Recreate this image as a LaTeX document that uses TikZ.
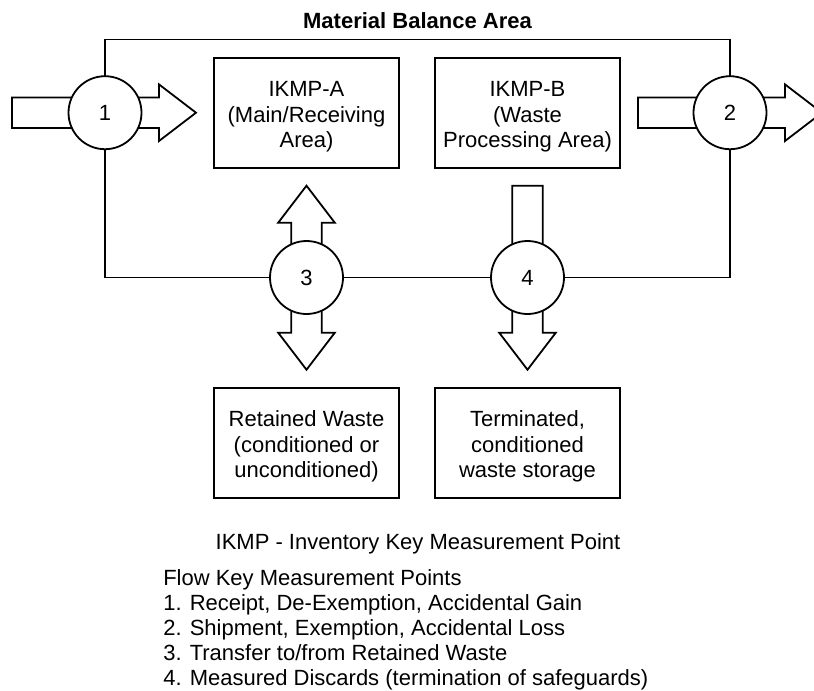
\documentclass[tikz,border=0pt]{standalone}
\usepackage{fontspec}
\setmainfont{Liberation Sans}
\usepackage{tikz}
\usetikzlibrary{positioning,calc}
\newlength{\BalanceFigureUnit}
\setlength{\BalanceFigureUnit}{0.75pt}
\newcommand{\BalanceFigureFont}{\fontsize{16.5pt}{19.2pt}\selectfont}
\newcommand{\FlowArrowHead}{37}
\newcommand{\FlowArrowShaft}{15.3}
\newcommand{\FlowArrowWing}{28.3}
\tikzset{
  balance line/.style={draw=black, line width=1.35pt},
  balance area/.style={balance line, minimum width=625*\BalanceFigureUnit,
    minimum height=238*\BalanceFigureUnit, inner sep=0pt, outer sep=0pt},
  ikmp box/.style={balance line, fill=white, minimum width=185*\BalanceFigureUnit,
    minimum height=110*\BalanceFigureUnit, inner sep=0pt, outer sep=0pt,
    align=center, font=\BalanceFigureFont, text height=54pt, text depth=1.2pt},
  kmp circle/.style={balance line, fill=white, circle, inner sep=0pt,
    minimum size=73*\BalanceFigureUnit, font=\BalanceFigureFont},
  legend text/.style={inner sep=0pt, font=\BalanceFigureFont},
  flow arrow/.pic={
    \path[balance line, fill=white]
      (0,-\FlowArrowShaft) -- ({#1-\FlowArrowHead},-\FlowArrowShaft)
      -- ({#1-\FlowArrowHead},-\FlowArrowWing) -- (#1,0)
      -- ({#1-\FlowArrowHead},\FlowArrowWing) -- ({#1-\FlowArrowHead},\FlowArrowShaft)
      -- (0,\FlowArrowShaft) -- cycle;
  },
  twoway arrow/.pic={
    \path[balance line, fill=white]
      (0,0) -- (\FlowArrowHead,-\FlowArrowWing) -- (\FlowArrowHead,-\FlowArrowShaft)
      -- ({#1-\FlowArrowHead},-\FlowArrowShaft) -- ({#1-\FlowArrowHead},-\FlowArrowWing)
      -- (#1,0) -- ({#1-\FlowArrowHead},\FlowArrowWing) -- ({#1-\FlowArrowHead},\FlowArrowShaft)
      -- (\FlowArrowHead,\FlowArrowShaft) -- (\FlowArrowHead,\FlowArrowWing) -- cycle;
  }
}
\begin{document}
\begin{tikzpicture}[x=\BalanceFigureUnit, y=-\BalanceFigureUnit]
  \useasboundingbox (0,0) rectangle (814,690);
  % material balance area and the four areas
  \node[balance area] (balance-area) at (417.5,158.5) {};
  \node[font=\BalanceFigureFont\bfseries, inner sep=0pt, above=7.6pt of balance-area]
    (balance-title) {Material Balance Area};
  \node[ikmp box] (ikmp-a) at (306.5,112.7) {IKMP-A\\(Main/Receiving\\Area)};
  \node[ikmp box, right=27pt of ikmp-a] (ikmp-b) {IKMP-B\\(Waste\\Processing Area)};
  \node[ikmp box, below=165pt of ikmp-a] (retained-waste)
    {Retained Waste\\(conditioned or\\unconditioned)};
  \node[ikmp box, below=165pt of ikmp-b] (waste-storage)
    {Terminated,\\conditioned\\waste storage};
  % flows
  \pic at ($(ikmp-a.west)+(-202,0)$) {flow arrow=184};
  \pic at ($(ikmp-b.east)+(18,0)$) {flow arrow=184};
  \pic[rotate=90] at ($(retained-waste.north)+(0,-18)$) {twoway arrow=184};
  \pic[rotate=-90] at ($(ikmp-b.south)+(0,18)$) {flow arrow=184};
  \node[kmp circle] (kmp-1) at (balance-area.west |- ikmp-a) {1};
  \node[kmp circle] (kmp-2) at (balance-area.east |- ikmp-b) {2};
  \node[kmp circle] (kmp-3) at (ikmp-a |- balance-area.south) {3};
  \node[kmp circle] (kmp-4) at (ikmp-b |- balance-area.south) {4};
  % legend
  \node[legend text, anchor=base] (ikmp-legend) at (418,549)
    {IKMP - Inventory Key Measurement Point};
  \foreach \legendline [count=\i from 0] in {Flow Key Measurement Points,
      {1. Receipt, De-Exemption, Accidental Gain},
      {2. Shipment, Exemption, Accidental Loss},
      {3. Transfer to/from Retained Waste},
      {4. Measured Discards (termination of safeguards)}} {
    \node[legend text, anchor=base west] (flow-kmp-\i) at (163,{585+25*\i}) {\legendline};
  }
\end{tikzpicture}
\end{document}
